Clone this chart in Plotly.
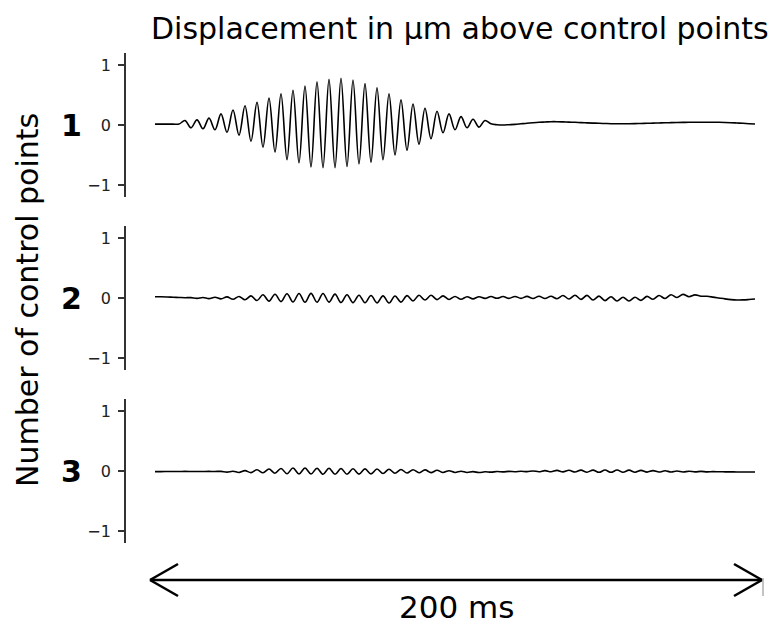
import plotly.graph_objects as go

# ---------------- data ----------------
# time grid (ms), one sample per half-cycle of the ~250 Hz carrier
time_ms = list(range(0, 201, 2))

panel_labels = ["1", "2", "3"]
tick_vals = [-1, 0, 1]
tick_text = ["\u22121", "0", "1"]

disp_1 = [
    0.015, 0.015, 0.015, 0.015, 0.015,
    0.075, -0.046, 0.086, -0.063, 0.114, -0.08, 0.185, -0.12, 0.25, -0.17,
    0.32, -0.27, 0.38, -0.37, 0.45, -0.45, 0.52, -0.58, 0.58, -0.63,
    0.65, -0.70, 0.72, -0.71, 0.76, -0.71, 0.78, -0.69, 0.75, -0.65,
    0.69, -0.62, 0.62, -0.58, 0.52, -0.50, 0.42, -0.42, 0.35, -0.32,
    0.28, -0.23, 0.23, -0.13, 0.185, -0.08, 0.14, -0.046, 0.097, -0.035,
    0.075,
    0.02, 0.005, 0.0, 0.005, 0.01, 0.02, 0.03, 0.038, 0.045, 0.05,
    0.055, 0.055, 0.052, 0.048, 0.045, 0.04, 0.036, 0.032, 0.028, 0.025,
    0.022, 0.02, 0.02, 0.021, 0.023, 0.026, 0.028, 0.031, 0.034, 0.037,
    0.039, 0.041, 0.043, 0.045, 0.046, 0.046, 0.046, 0.046, 0.045, 0.042,
    0.038, 0.033, 0.028, 0.022, 0.017,
]

disp_2 = [
    0.022, 0.02, 0.017, 0.013, 0.009, 0.005,
    0.006, -0.007, 0.008, -0.010, 0.012, -0.015, 0.018, -0.022, 0.026, -0.030,
    0.035, -0.042, 0.053, -0.052, 0.063, -0.061, 0.070, -0.067, 0.075, -0.071,
    0.077, -0.070, 0.075, -0.068, 0.065, -0.076, 0.055, -0.078, 0.047, -0.080,
    0.041, -0.082, 0.036, -0.083, 0.033, -0.068, 0.039, -0.050, 0.045, -0.034,
    0.046, -0.027, 0.036, -0.025, 0.026, -0.022, 0.022, -0.014, 0.022, -0.007,
    0.025, -0.005, 0.025, -0.006, 0.026, -0.006, 0.027, -0.008, 0.029, -0.009,
    0.030, -0.012, 0.041, -0.016, 0.047, -0.023, 0.043, -0.033, 0.031, -0.044,
    0.022, -0.050, 0.013, -0.050, 0.013, -0.039, 0.027, -0.022, 0.041, -0.008,
    0.054, 0.008, 0.060, 0.022, 0.052, 0.030,
    0.028, 0.015, 0.0, -0.015, -0.027, -0.033, -0.032, -0.025, -0.016,
]

disp_3 = [
    -0.010, -0.010, -0.009, -0.008, -0.008, -0.007, -0.008, -0.009, -0.008, -0.007,
    -0.008,
    -0.006, -0.018, -0.004, -0.024, 0.006, -0.027, 0.020, -0.030, 0.033, -0.038,
    0.042, -0.046, 0.049, -0.050, 0.050, -0.050, 0.047, -0.054, 0.045, -0.055,
    0.041, -0.055, 0.038, -0.052, 0.035, -0.048, 0.033, -0.042, 0.030, -0.038,
    0.026, -0.034, 0.022, -0.030, 0.018, -0.027, 0.012, -0.025, 0.005, -0.025,
    -0.003, -0.025, -0.011, -0.026, -0.013, -0.019, -0.009, -0.014, -0.007, -0.012,
    -0.004, -0.011, 0.001, -0.012, 0.007, -0.013, 0.010, -0.015, 0.012, -0.017,
    0.014, -0.020, 0.015, -0.022, 0.016, -0.022, 0.016, -0.021, 0.014, -0.020,
    0.010, -0.018, 0.007, -0.017, 0.004, -0.016, 0.000, -0.016, -0.004, -0.015,
    -0.007, -0.015, -0.011,
    -0.013, -0.014, -0.015, -0.016, -0.016, -0.016, -0.016,
]

series = [disp_1, disp_2, disp_3]

# ---------------- layout helpers ----------------
OFF = 8                      # page body margin in the browser
W, H = 777 - OFF, 626 - OFF  # figure size so that it fills the window
FONT = "DejaVu Sans"


def px_x(x):
    # window pixel -> paper fraction
    return (x - OFF) / W


def px_y(y):
    return 1 - (y - OFF) / H


x_left, x0_data, px_per_ms = 126, 155, 3.0
x_dom = [px_x(x_left), 1.0]
x_rng = [(x_left - x0_data) / px_per_ms, (777 - x0_data) / px_per_ms]
centers = [125, 298, 471]
half = 72  # px, half height of each panel axis

fig = go.Figure()
layout = dict(
    width=W, height=H,
    margin=dict(l=0, r=0, t=0, b=0),
    paper_bgcolor="white", plot_bgcolor="white",
    showlegend=False,
    font=dict(family=FONT, color="black"),
)

for i, vals in enumerate(series):
    n = "" if i == 0 else str(i + 1)
    fig.add_trace(go.Scatter(
        x=time_ms, y=vals, mode="lines",
        line=dict(color="black", width=1.6, shape="spline", smoothing=1.0),
        xaxis="x" + n, yaxis="y" + n, hoverinfo="skip",
    ))
    c = centers[i]
    layout["xaxis" + n] = dict(
        domain=x_dom, range=x_rng, visible=False, anchor="y" + n,
        fixedrange=True,
    )
    layout["yaxis" + n] = dict(
        domain=[px_y(c + half), px_y(c - half)],
        range=[-1.2, 1.2], anchor="x" + n,
        showline=True, linecolor="#333", linewidth=1.7,
        ticks="outside", ticklen=6, tickwidth=1.5, tickcolor="#333",
        tickvals=tick_vals, ticktext=tick_text,
        tickfont=dict(family=FONT, size=16, color="#222"),
        ticklabelstandoff=4,
        showgrid=False, zeroline=False,
    )

annotations = [
    dict(text="Displacement in \u00b5m above control points", x=px_x(460), y=px_y(29),
         xref="paper", yref="paper", showarrow=False, xanchor="center", yanchor="middle",
         font=dict(family=FONT, size=30, color="black")),
    dict(text="Number of control points", x=px_x(28), y=px_y(300),
         xref="paper", yref="paper", showarrow=False, textangle=-90,
         xanchor="center", yanchor="middle",
         font=dict(family=FONT, size=30, color="black")),
    dict(text="200 ms", x=px_x(456), y=px_y(607),
         xref="paper", yref="paper", showarrow=False, xanchor="center", yanchor="middle",
         font=dict(family=FONT, size=31, color="black")),
]
for i, lab in enumerate(panel_labels):
    annotations.append(dict(
        text="<b>" + lab + "</b>", x=px_x(71), y=px_y(centers[i]),
        xref="paper", yref="paper", showarrow=False, xanchor="center", yanchor="middle",
        font=dict(family=FONT, size=30, color="black")))
layout["annotations"] = annotations

# double-headed arrow spanning the 200 ms window
ay = 580
lx, rx = 150, 762
arm_dx, arm_dy = 28, 16


def seg(x0, y0, x1, y1, color="black", width=2.5):
    return dict(type="line", xref="paper", yref="paper",
                x0=px_x(x0), y0=px_y(y0), x1=px_x(x1), y1=px_y(y1),
                line=dict(color=color, width=width))


shapes = [
    seg(lx, ay, rx, ay),
    seg(lx, ay, lx + arm_dx, ay - arm_dy),
    seg(lx, ay, lx + arm_dx, ay + arm_dy),
    seg(rx, ay, rx - arm_dx, ay - arm_dy),
    seg(rx, ay, rx - arm_dx, ay + arm_dy),
    seg(763, ay - 2, 763, ay + 16, color="#888", width=1),
]
layout["shapes"] = shapes

fig.update_layout(**layout)
fig.write_html("out.html")
